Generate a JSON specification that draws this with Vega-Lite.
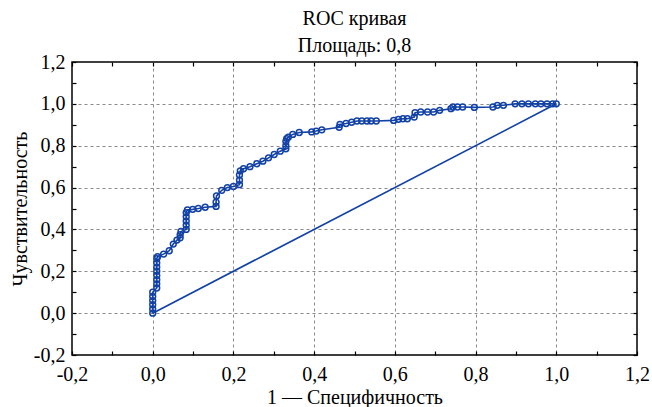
{
  "$schema": "https://vega.github.io/schema/vega-lite/v6.json",
  "width": 565,
  "height": 293,
  "autosize": {"type": "none"},
  "padding": {"left": 72, "top": 62, "right": 15, "bottom": 52},
  "config": {
    "font": "Liberation Serif",
    "view": {"stroke": "#000", "strokeWidth": 1.5},
    "axis": {
      "domain": false,
      "labelFont": "Liberation Serif",
      "labelFontSize": 20,
      "labelColor": "#000",
      "titleFont": "Liberation Serif",
      "titleFontSize": 20,
      "titleFontWeight": "normal",
      "titleColor": "#000",
      "tickColor": "#000",
      "tickWidth": 1.2,
      "tickSize": -4,
      "gridDash": [3, 3],
      "gridColor": "#8a8a8a",
      "gridWidth": 1
    }
  },
  "title": {
    "text": ["ROC кривая", "Площадь: 0,8"],
    "font": "Liberation Serif",
    "fontSize": 20,
    "fontWeight": "normal",
    "color": "#000",
    "anchor": "middle",
    "lineHeight": 27,
    "offset": -4
  },
  "datasets": {
    "roc": [
      {"i": 1, "x": 0, "y": 0}, {"i": 2, "x": 0, "y": 0.02}, {"i": 3, "x": 0, "y": 0.04}, {"i": 4, "x": 0, "y": 0.06}, {"i": 5, "x": 0, "y": 0.08}, {"i": 6, "x": 0, "y": 0.1},
      {"i": 7, "x": 0.01, "y": 0.12}, {"i": 8, "x": 0.01, "y": 0.14}, {"i": 9, "x": 0.01, "y": 0.16}, {"i": 10, "x": 0.01, "y": 0.18}, {"i": 11, "x": 0.01, "y": 0.2}, {"i": 12, "x": 0.01, "y": 0.22}, {"i": 13, "x": 0.01, "y": 0.24}, {"i": 14, "x": 0.01, "y": 0.26}, {"i": 15, "x": 0.012, "y": 0.27},
      {"i": 16, "x": 0.027, "y": 0.282}, {"i": 17, "x": 0.041, "y": 0.298}, {"i": 18, "x": 0.051, "y": 0.33}, {"i": 19, "x": 0.06, "y": 0.349},
      {"i": 20, "x": 0.068, "y": 0.36}, {"i": 21, "x": 0.068, "y": 0.375}, {"i": 22, "x": 0.07, "y": 0.39},
      {"i": 23, "x": 0.083, "y": 0.4}, {"i": 24, "x": 0.083, "y": 0.42}, {"i": 25, "x": 0.083, "y": 0.44}, {"i": 26, "x": 0.083, "y": 0.46}, {"i": 27, "x": 0.083, "y": 0.48}, {"i": 28, "x": 0.086, "y": 0.493},
      {"i": 29, "x": 0.099, "y": 0.496}, {"i": 30, "x": 0.113, "y": 0.5}, {"i": 31, "x": 0.13, "y": 0.506}, {"i": 32, "x": 0.157, "y": 0.51}, {"i": 33, "x": 0.157, "y": 0.53}, {"i": 34, "x": 0.158, "y": 0.56},
      {"i": 35, "x": 0.171, "y": 0.587}, {"i": 36, "x": 0.185, "y": 0.6}, {"i": 37, "x": 0.2, "y": 0.605}, {"i": 38, "x": 0.215, "y": 0.614}, {"i": 39, "x": 0.215, "y": 0.635}, {"i": 40, "x": 0.215, "y": 0.66}, {"i": 41, "x": 0.217, "y": 0.68},
      {"i": 42, "x": 0.225, "y": 0.69}, {"i": 43, "x": 0.241, "y": 0.7}, {"i": 44, "x": 0.258, "y": 0.714}, {"i": 45, "x": 0.273, "y": 0.726}, {"i": 46, "x": 0.287, "y": 0.742}, {"i": 47, "x": 0.301, "y": 0.758}, {"i": 48, "x": 0.316, "y": 0.774},
      {"i": 49, "x": 0.33, "y": 0.785}, {"i": 50, "x": 0.33, "y": 0.8}, {"i": 51, "x": 0.33, "y": 0.82}, {"i": 52, "x": 0.332, "y": 0.834}, {"i": 53, "x": 0.336, "y": 0.841}, {"i": 54, "x": 0.347, "y": 0.854}, {"i": 55, "x": 0.363, "y": 0.863},
      {"i": 56, "x": 0.394, "y": 0.866}, {"i": 57, "x": 0.405, "y": 0.87}, {"i": 58, "x": 0.419, "y": 0.876}, {"i": 59, "x": 0.462, "y": 0.888}, {"i": 60, "x": 0.464, "y": 0.902}, {"i": 61, "x": 0.479, "y": 0.906}, {"i": 62, "x": 0.493, "y": 0.912},
      {"i": 63, "x": 0.506, "y": 0.918}, {"i": 64, "x": 0.518, "y": 0.918}, {"i": 65, "x": 0.531, "y": 0.918}, {"i": 66, "x": 0.541, "y": 0.918}, {"i": 67, "x": 0.554, "y": 0.918},
      {"i": 68, "x": 0.597, "y": 0.921}, {"i": 69, "x": 0.609, "y": 0.926}, {"i": 70, "x": 0.62, "y": 0.929}, {"i": 71, "x": 0.631, "y": 0.929}, {"i": 72, "x": 0.648, "y": 0.937}, {"i": 73, "x": 0.65, "y": 0.958}, {"i": 74, "x": 0.664, "y": 0.961}, {"i": 75, "x": 0.681, "y": 0.961}, {"i": 76, "x": 0.696, "y": 0.961}, {"i": 77, "x": 0.711, "y": 0.969},
      {"i": 78, "x": 0.739, "y": 0.977}, {"i": 79, "x": 0.744, "y": 0.985}, {"i": 80, "x": 0.755, "y": 0.985}, {"i": 81, "x": 0.768, "y": 0.985}, {"i": 82, "x": 0.797, "y": 0.983}, {"i": 83, "x": 0.843, "y": 0.985}, {"i": 84, "x": 0.854, "y": 0.993}, {"i": 85, "x": 0.869, "y": 0.993},
      {"i": 86, "x": 0.898, "y": 1}, {"i": 87, "x": 0.915, "y": 1}, {"i": 88, "x": 0.931, "y": 1}, {"i": 89, "x": 0.948, "y": 1}, {"i": 90, "x": 0.962, "y": 1}, {"i": 91, "x": 0.977, "y": 1}, {"i": 92, "x": 0.991, "y": 1}, {"i": 93, "x": 1, "y": 1}
    ],
    "diag": [{"x": 0, "y": 0}, {"x": 1, "y": 1}]
  },
  "layer": [
    {
      "data": {"name": "diag"},
      "mark": {"type": "line", "color": "#1242a6", "strokeWidth": 1.7},
      "encoding": {
        "x": {
          "field": "x", "type": "quantitative",
          "scale": {"domain": [-0.2, 1.2], "nice": false, "zero": false},
          "axis": {
            "orient": "bottom",
            "title": "1 — Специфичность",
            "titlePadding": 3,
            "values": [-0.2, -0.1, 0, 0.1, 0.2, 0.3, 0.4, 0.5, 0.6, 0.7, 0.8, 0.9, 1, 1.1, 1.2],
            "labelExpr": "round(datum.value*10) % 2 == 0 ? replace(replace(format(datum.value, '.1f'), '.', ','), '−', '-') : ''",
            "labelPadding": 13,
            "labelFlush": false,
            "gridOpacity": {"condition": {"test": "round(datum.value*10) % 2 != 0 || abs(datum.value) > 1.1 || datum.value < -0.1", "value": 0}, "value": 1}
          }
        },
        "y": {
          "field": "y", "type": "quantitative",
          "scale": {"domain": [-0.2, 1.2], "nice": false, "zero": false},
          "axis": {
            "orient": "left",
            "title": "Чувствительность",
            "titlePadding": 3,
            "values": [-0.2, -0.1, 0, 0.1, 0.2, 0.3, 0.4, 0.5, 0.6, 0.7, 0.8, 0.9, 1, 1.1, 1.2],
            "labelExpr": "round(datum.value*10) % 2 == 0 ? replace(replace(format(datum.value, '.1f'), '.', ','), '−', '-') : ''",
            "labelPadding": 11,
            "labelFlush": false,
            "gridOpacity": {"condition": {"test": "round(datum.value*10) % 2 != 0 || abs(datum.value) > 1.1 || datum.value < -0.1", "value": 0}, "value": 1}
          }
        }
      }
    },
    {
      "data": {"name": "roc"},
      "mark": {"type": "line", "color": "#1242a6", "strokeWidth": 1.6, "point": {"filled": false, "color": "#1242a6", "size": 34, "strokeWidth": 1.5}},
      "encoding": {
        "x": {
          "field": "x", "type": "quantitative",
          "axis": {"orient": "top", "title": null, "labels": false, "grid": false,
            "values": [-0.2, -0.1, 0, 0.1, 0.2, 0.3, 0.4, 0.5, 0.6, 0.7, 0.8, 0.9, 1, 1.1, 1.2]}
        },
        "y": {
          "field": "y", "type": "quantitative",
          "axis": {"orient": "right", "title": null, "labels": false, "grid": false,
            "values": [-0.2, -0.1, 0, 0.1, 0.2, 0.3, 0.4, 0.5, 0.6, 0.7, 0.8, 0.9, 1, 1.1, 1.2]}
        },
        "order": {"field": "i"}
      }
    }
  ],
  "resolve": {"axis": {"x": "independent", "y": "independent"}}
}
